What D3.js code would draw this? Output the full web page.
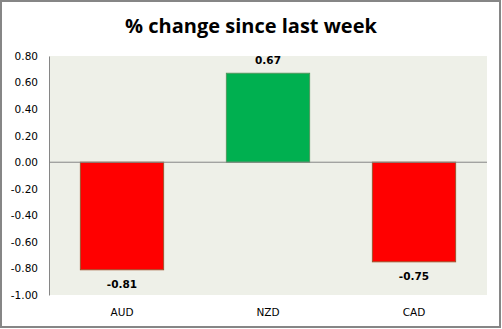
<!DOCTYPE html>
<html><head><meta charset="utf-8">
<script src="https://cdn.jsdelivr.net/npm/d3@7"></script>
<style>
html,body{margin:0;padding:0;background:#fff;}
svg{display:block;}
</style></head>
<body>
<script>
const title = "% change since last week";
const categories = ["AUD", "NZD", "CAD"];
const values = [-0.81, 0.67, -0.75];
const yTicks = [0.80, 0.60, 0.40, 0.20, 0.00, -0.20, -0.40, -0.60, -0.80, -1.00];

const W = 502, H = 329;
const svg = d3.select("body").append("svg").attr("width", W).attr("height", H);

svg.append("rect").attr("x", 1).attr("y", 1).attr("width", W - 3).attr("height", H - 3)
  .attr("fill", "#fff").attr("stroke", "#868686").attr("stroke-width", 2);

const pL = 49, pR = 487, pT = 56, pB = 295;
const x = d3.scaleBand().domain(categories).range([pL, pR]).paddingInner(0.43).paddingOuter(0.215);
const y = d3.scaleLinear().domain([-1, 0.8]).range([pB, pT]);

svg.append("rect").attr("x", pL).attr("y", pT).attr("width", pR - pL).attr("height", pB - pT)
  .attr("fill", "#EEF0E8");

svg.append("text").attr("x", 251).attr("y", 33).attr("text-anchor", "middle")
  .attr("font-family", "'Open Sans', 'Noto Sans', sans-serif").attr("font-weight", "bold")
  .attr("font-size", 20).attr("fill", "#000").text(title);

const yAxis = d3.axisLeft(y).tickValues(yTicks).tickFormat(d3.format(".2f")).tickSize(0).tickPadding(11);
const gy = svg.append("g").attr("transform", `translate(${pL},0)`).call(yAxis);
gy.select(".domain").attr("stroke", "#868686");
gy.selectAll("text").attr("font-family", "'DejaVu Sans', Verdana, sans-serif").attr("font-size", 10.5).attr("fill", "#000")
  .text(d => d.toFixed(2));

const colors = v => v < 0 ? "#FF0000" : "#00B050";
const strokes = v => v < 0 ? "#A0522D" : "#4E9A5E";

svg.selectAll("rect.bar").data(values).join("rect").attr("class", "bar")
  .attr("x", (d, i) => x(categories[i]))
  .attr("width", x.bandwidth())
  .attr("y", d => y(Math.max(0, d)))
  .attr("height", d => Math.abs(y(d) - y(0)))
  .attr("fill", colors).attr("stroke", strokes).attr("stroke-width", 1);

svg.append("line").attr("x1", pL).attr("x2", pR).attr("y1", y(0)).attr("y2", y(0))
  .attr("stroke", "#868686").attr("stroke-width", 1);

svg.selectAll("text.lbl").data(values).join("text").attr("class", "lbl")
  .attr("x", (d, i) => x(categories[i]) + x.bandwidth() / 2)
  .attr("y", d => d < 0 ? y(d) + 18 : y(d) - 9)
  .attr("text-anchor", "middle")
  .attr("font-family", "'DejaVu Sans', Verdana, sans-serif").attr("font-weight", "bold")
  .attr("font-size", 10.5).attr("fill", "#000")
  .text(d => d.toFixed(2));

const xAxis = d3.axisBottom(x).tickSize(0).tickPadding(0);
const gx = svg.append("g").attr("transform", `translate(0,${pB})`).call(xAxis);
gx.select(".domain").remove();
gx.selectAll("text").attr("font-family", "'DejaVu Sans', Verdana, sans-serif").attr("font-size", 10.5)
  .attr("fill", "#000").attr("dy", 0).attr("y", 21);
</script>
</body></html>
